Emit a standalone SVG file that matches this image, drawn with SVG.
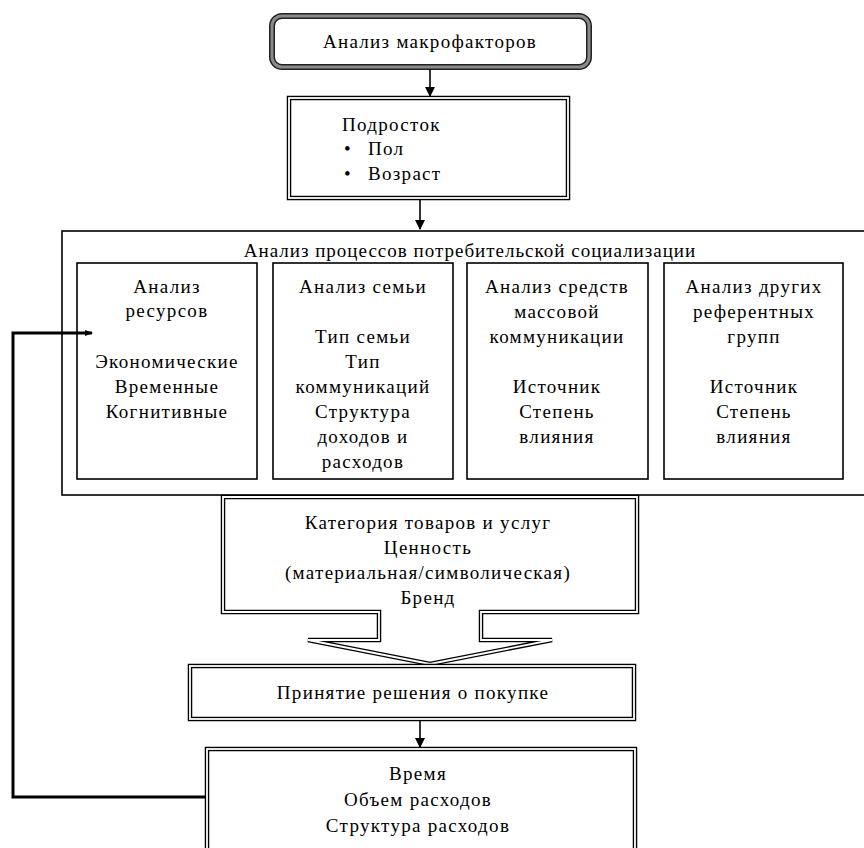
<svg xmlns="http://www.w3.org/2000/svg" width="864" height="848" viewBox="0 0 864 848" font-family="Liberation Serif, DejaVu Serif, serif">
<style>
text{font-family:"Liberation Serif","DejaVu Serif",serif;font-size:19px;letter-spacing:1.3px;fill:#000}
.c{text-anchor:middle}
.dbl{fill:#fff;stroke:#000;stroke-width:4.5}
.dbl2{fill:none;stroke:#fff;stroke-width:1.8}
.thin{fill:#fff;stroke:#000;stroke-width:1.6}
.ln{fill:none;stroke:#000;stroke-width:1.6}
.fb{fill:none;stroke:#000;stroke-width:3}
</style>
<defs>
<marker id="ah" markerWidth="10" markerHeight="10" refX="9" refY="5" orient="auto" markerUnits="userSpaceOnUse">
<path d="M0,0 L10,5 L0,10 Z" fill="#000"/>
</marker>
<marker id="ah2" markerWidth="8" markerHeight="8" refX="7" refY="4" orient="auto" markerUnits="userSpaceOnUse">
<path d="M0,1 L8,4 L0,7 Z" fill="#000"/>
</marker>
</defs>

<g id="macro">
<rect x="272" y="16" width="317" height="51" rx="10" fill="#fff" stroke="#222" stroke-width="6"/>
<rect x="272" y="16" width="317" height="51" rx="10" fill="none" stroke="#8a8a8a" stroke-width="3"/>
<text class="c" x="430" y="48">Анализ макрофакторов</text>
</g>

<g id="teen">
<rect class="dbl" x="289" y="98" width="279" height="100"/>
<rect class="dbl2" x="289" y="98" width="279" height="100"/>
<text x="342" y="131">Подросток</text>
<text x="344" y="155">•</text>
<text x="368" y="155">Пол</text>
<text x="344" y="180">•</text>
<text x="368" y="180">Возраст</text>
</g>

<g id="socialization">
<rect class="thin" x="62" y="231" width="810" height="264"/>
<text class="c" x="470" y="257" style="letter-spacing:1px">Анализ процессов потребительской социализации</text>
</g>

<g id="resources">
<rect class="thin" x="77" y="263" width="180" height="216"/>
<text class="c" x="167" y="293">Анализ</text>
<text class="c" x="167" y="317">ресурсов</text>
<text class="c" x="167" y="368">Экономические</text>
<text class="c" x="167" y="393">Временные</text>
<text class="c" x="167" y="418">Когнитивные</text>
</g>

<g id="family">
<rect class="thin" x="273" y="263" width="180" height="216"/>
<text class="c" x="363" y="293">Анализ семьи</text>
<text class="c" x="363" y="343">Тип семьи</text>
<text class="c" x="363" y="368">Тип</text>
<text class="c" x="363" y="393">коммуникаций</text>
<text class="c" x="363" y="418">Структура</text>
<text class="c" x="363" y="443">доходов и</text>
<text class="c" x="363" y="468">расходов</text>
</g>

<g id="media">
<rect class="thin" x="467" y="263" width="181" height="216"/>
<text class="c" x="557" y="293">Анализ средств</text>
<text class="c" x="557" y="318">массовой</text>
<text class="c" x="557" y="343">коммуникации</text>
<text class="c" x="557" y="393">Источник</text>
<text class="c" x="557" y="418">Степень</text>
<text class="c" x="557" y="443">влияния</text>
</g>

<g id="groups">
<rect class="thin" x="664" y="263" width="179" height="216"/>
<text class="c" x="754" y="293">Анализ других</text>
<text class="c" x="754" y="318">референтных</text>
<text class="c" x="754" y="343">групп</text>
<text class="c" x="754" y="393">Источник</text>
<text class="c" x="754" y="418">Степень</text>
<text class="c" x="754" y="443">влияния</text>
</g>

<g id="category">
<path class="dbl" d="M223,497 H637 V612 H481 V640 H552 L430,664 L308,640 H379 V612 H223 Z"/>
<path class="dbl2" d="M223,497 H637 V612 H481 V640 H552 L430,664 L308,640 H379 V612 H223 Z"/>
<text class="c" x="428" y="529">Категория товаров и услуг</text>
<text class="c" x="428" y="554">Ценность</text>
<text class="c" x="428" y="579">(материальная/символическая)</text>
<text class="c" x="428" y="604">Бренд</text>
</g>

<g id="decision">
<rect class="dbl" x="190" y="666" width="444" height="53"/>
<rect class="dbl2" x="190" y="666" width="444" height="53"/>
<text class="c" x="413" y="699">Принятие решения о покупке</text>
</g>

<g id="result">
<rect class="dbl" x="207" y="749" width="428" height="110"/>
<rect class="dbl2" x="207" y="749" width="428" height="110"/>
<text class="c" x="418" y="780">Время</text>
<text class="c" x="418" y="806">Объем расходов</text>
<text class="c" x="418" y="832">Структура расходов</text>
</g>

<g id="connectors">
<line class="ln" x1="430" y1="69" x2="430" y2="96" marker-end="url(#ah)"/>
<line class="ln" x1="420" y1="200" x2="420" y2="229" marker-end="url(#ah)"/>
<line class="ln" x1="420" y1="721" x2="420" y2="747" marker-end="url(#ah)"/>
<polyline class="fb" points="205,797 13,797 13,333 92,333" marker-end="url(#ah2)"/>
</g>
</svg>
